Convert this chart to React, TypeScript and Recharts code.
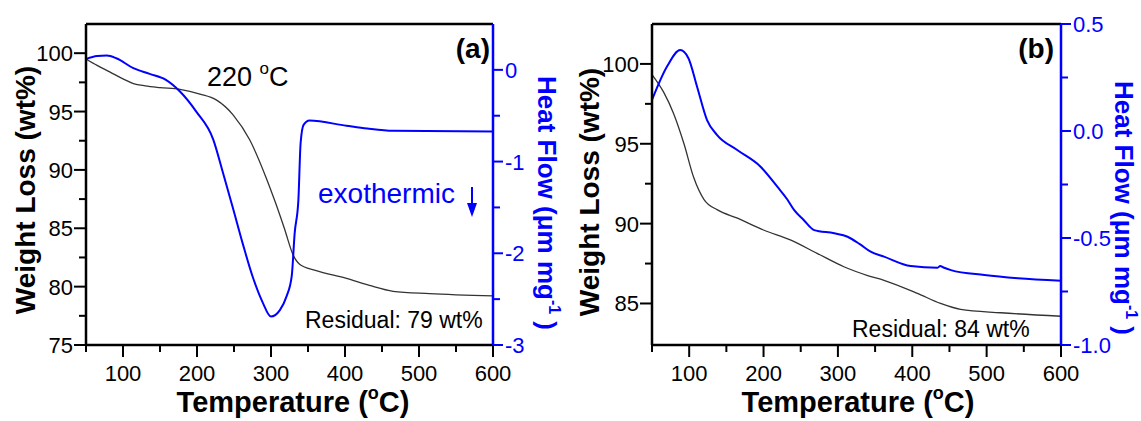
import React from 'react';
import { LineChart, Line, XAxis, YAxis, ReferenceLine } from 'recharts';

const FONT = '"Liberation Sans", Arial, Helvetica, sans-serif';
const BLUE = '#0000ff';

// Panel (a): TGA (weight loss, wt%)
const tgaA_T = [50, 65, 82, 100, 114, 130, 150, 177, 204, 226, 249, 271, 293, 306, 318, 330, 339, 360, 402, 433, 465, 514, 600];
const tgaA_W = [99.5, 98.95, 98.4, 97.8, 97.4, 97.2, 97.05, 96.9, 96.5, 96.0, 94.7, 92.6, 89.4, 87.2, 85.0, 82.7, 81.9, 81.4, 80.7, 80.1, 79.6, 79.4, 79.2];
// Panel (a): DSC (heat flow)
const dscA_T = [50, 65, 78, 91, 114, 136, 158, 177, 199, 222, 235, 249, 262, 275, 289, 300, 312, 321, 328, 332, 337, 340, 344, 352, 402, 430, 465, 600];
const dscA_H = [0.117, 0.15, 0.156, 0.127, 0.018, -0.044, -0.109, -0.236, -0.455, -0.76, -1.12, -1.52, -1.9, -2.25, -2.54, -2.69, -2.62, -2.47, -2.25, -1.78, -1.42, -0.8, -0.6, -0.553, -0.61, -0.64, -0.665, -0.673];

// Panel (b): TGA
const tgaB_T = [50, 66, 79, 93, 106, 120, 138, 165, 200, 236, 272, 308, 340, 362, 407, 438, 465, 519, 600];
const tgaB_W = [99.33, 98.2, 96.9, 95.0, 92.9, 91.5, 90.86, 90.34, 89.6, 88.98, 88.14, 87.3, 86.75, 86.45, 85.63, 85.0, 84.63, 84.42, 84.2];
// Panel (b): DSC
const dscB_T = [50, 70, 88, 99, 110.6, 124, 137.6, 164.6, 196, 218.5, 232, 241, 254, 268, 295, 313, 330, 344, 362, 398, 434, 437.5, 442, 452, 497, 542, 600];
const dscB_H = [0.145, 0.3, 0.378, 0.34, 0.207, 0.051, -0.019, -0.089, -0.167, -0.26, -0.32, -0.369, -0.416, -0.463, -0.478, -0.494, -0.53, -0.564, -0.587, -0.631, -0.639, -0.631, -0.638, -0.65, -0.673, -0.688, -0.7];

// Tick values / labels
const xMajor = [100, 200, 300, 400, 500, 600];
const xMinor = [50, 150, 250, 350, 450, 550];
const wA_Major = [75, 80, 85, 90, 95, 100];
const wA_Minor = [77.5, 82.5, 87.5, 92.5, 97.5];
const hA_Major = [0, -1, -2, -3];
const hA_Labels = ['0', '-1', '-2', '-3'];
const hA_Minor = [-0.5, -1.5, -2.5];
const wB_Major = [85, 90, 95, 100];
const wB_Minor = [87.5, 92.5, 97.5];
const hB_Major = [0.5, 0, -0.5, -1];
const hB_Labels = ['0.5', '0.0', '-0.5', '-1.0'];
const hB_Minor = [0.25, -0.25, -0.75];

const zip = (t: number[], v: number[]) => t.map((x, i) => ({ t: x, v: v[i] }));
const sorted = (a: number[], b: number[]) => [...a, ...b].sort((p, q) => p - q);

const xTick = (props: any) => {
  const { x, y, payload } = props;
  const major = xMajor.includes(payload.value);
  return (
    <g>
      <line x1={x} y1={y} x2={x} y2={y + (major ? 12 : 7)} stroke="#000" strokeWidth={2} />
      {major && (
        <text x={x} y={y + 36} textAnchor="middle" fontSize={22} fontFamily={FONT} fill="#000">
          {payload.value}
        </text>
      )}
    </g>
  );
};

const leftTick = (majors: number[]) => (props: any) => {
  const { x, y, payload } = props;
  const major = majors.includes(payload.value);
  return (
    <g>
      <line x1={x} y1={y} x2={x - (major ? 12 : 7)} y2={y} stroke="#000" strokeWidth={2} />
      {major && (
        <text x={x - 13} y={y + 8} textAnchor="end" fontSize={22} fontFamily={FONT} fill="#000">
          {payload.value}
        </text>
      )}
    </g>
  );
};

const rightTick = (majors: number[], labels: string[]) => (props: any) => {
  const { x, y, payload } = props;
  const idx = majors.indexOf(payload.value);
  const major = idx >= 0;
  return (
    <g>
      <line x1={x} y1={y} x2={x + (major ? 10 : 7)} y2={y} stroke={BLUE} strokeWidth={2} />
      {major && (
        <text x={x + 12} y={y + 8} textAnchor="start" fontSize={22} fontFamily={FONT} fill={BLUE}>
          {labels[idx]}
        </text>
      )}
    </g>
  );
};

type PanelProps = {
  left: number;
  width: number;
  margin: { top: number; right: number; left: number; bottom: number };
  tga: { t: number; v: number }[];
  dsc: { t: number; v: number }[];
  wDomain: [number, number];
  wTicks: number[];
  wMajor: number[];
  hDomain: [number, number];
  hTicks: number[];
  hMajor: number[];
  hLabels: string[];
};

const Panel = (p: PanelProps) => (
  <div style={{ position: 'absolute', left: p.left, top: 0 }}>
    <LineChart width={p.width} height={421} margin={p.margin}>
      <XAxis
        dataKey="t"
        type="number"
        domain={[50, 600]}
        allowDataOverflow
        ticks={sorted(xMajor, xMinor)}
        interval={0}
        height={40}
        tickSize={0}
        tickMargin={0}
        tickLine={false}
        tick={xTick}
        axisLine={{ stroke: '#000', strokeWidth: 2.5 }}
      />
      <YAxis
        yAxisId="w"
        type="number"
        domain={p.wDomain}
        allowDataOverflow
        ticks={p.wTicks}
        interval={0}
        width={60}
        tickSize={0}
        tickMargin={0}
        tickLine={false}
        tick={leftTick(p.wMajor)}
        axisLine={{ stroke: '#000', strokeWidth: 2.5 }}
      />
      <YAxis
        yAxisId="h"
        orientation="right"
        type="number"
        domain={p.hDomain}
        allowDataOverflow
        ticks={p.hTicks}
        interval={0}
        width={60}
        tickSize={0}
        tickMargin={0}
        tickLine={false}
        tick={rightTick(p.hMajor, p.hLabels)}
        axisLine={{ stroke: BLUE, strokeWidth: 2.5 }}
      />
      <ReferenceLine yAxisId="w" y={p.wDomain[1]} stroke="#000" strokeWidth={2.5} ifOverflow="extendDomain" />
      <Line
        yAxisId="w"
        data={p.tga}
        dataKey="v"
        type="monotone"
        stroke="#333333"
        strokeWidth={1.3}
        dot={false}
        isAnimationActive={false}
      />
      <Line
        yAxisId="h"
        data={p.dsc}
        dataKey="v"
        type="monotone"
        stroke={BLUE}
        strokeWidth={2}
        dot={false}
        isAnimationActive={false}
      />
    </LineChart>
  </div>
);

const tStyle = { fontFamily: FONT };

export default function App() {
  return (
    <div style={{ position: 'absolute', left: 0, top: 0, width: 1141, height: 421, background: '#ffffff', overflow: 'hidden' }}>
      <Panel
        left={0}
        width={570}
        margin={{ top: 24, right: 17, left: 26, bottom: 36 }}
        tga={zip(tgaA_T, tgaA_W)}
        dsc={zip(dscA_T, dscA_H)}
        wDomain={[75, 102.5]}
        wTicks={sorted(wA_Major, wA_Minor)}
        wMajor={wA_Major}
        hDomain={[-3, 0.5]}
        hTicks={sorted(hA_Major, hA_Minor)}
        hMajor={hA_Major}
        hLabels={hA_Labels}
      />
      <Panel
        left={570}
        width={571}
        margin={{ top: 24, right: 20, left: 22, bottom: 36 }}
        tga={zip(tgaB_T, tgaB_W)}
        dsc={zip(dscB_T, dscB_H)}
        wDomain={[82.4, 102.5]}
        wTicks={sorted(wB_Major, wB_Minor)}
        wMajor={wB_Major}
        hDomain={[-1, 0.5]}
        hTicks={sorted(hB_Major, hB_Minor)}
        hMajor={hB_Major}
        hLabels={hB_Labels}
      />
      <svg width={1141} height={421} style={{ position: 'absolute', left: 0, top: 0, pointerEvents: 'none' }}>
        {/* axis titles */}
        <text transform="translate(35,190) rotate(-90)" textAnchor="middle" fontSize={28} fontWeight="bold" style={tStyle} fill="#000">
          Weight Loss (wt%)
        </text>
        <text transform="translate(599,192) rotate(-90)" textAnchor="middle" fontSize={28} fontWeight="bold" style={tStyle} fill="#000">
          Weight Loss (wt%)
        </text>
        <text transform="translate(538,203) rotate(90)" textAnchor="middle" fontSize={26} fontWeight="bold" style={tStyle} fill={BLUE}>
          Heat Flow (μm mg<tspan fontSize={16} dy={-11}>-1</tspan><tspan dy={11}> )</tspan>
        </text>
        <text transform="translate(1115,208) rotate(90)" textAnchor="middle" fontSize={26} fontWeight="bold" style={tStyle} fill={BLUE}>
          Heat Flow (μm mg<tspan fontSize={16} dy={-11}>-1</tspan><tspan dy={11}> )</tspan>
        </text>
        <text x={293} y={412} textAnchor="middle" fontSize={29} fontWeight="bold" style={tStyle} fill="#000">
          Temperature (<tspan fontSize={18} dy={-13}>o</tspan><tspan dy={13}>C)</tspan>
        </text>
        <text x={858} y={412} textAnchor="middle" fontSize={29} fontWeight="bold" style={tStyle} fill="#000">
          Temperature (<tspan fontSize={18} dy={-13}>o</tspan><tspan dy={13}>C)</tspan>
        </text>
        {/* annotations */}
        <text x={207} y={86} fontSize={27} style={tStyle} fill="#000">
          220 <tspan fontSize={17} dy={-12}>o</tspan><tspan dy={12}>C</tspan>
        </text>
        <text x={490} y={58} textAnchor="end" fontSize={28} fontWeight="bold" style={tStyle} fill="#000">(a)</text>
        <text x={1054} y={58} textAnchor="end" fontSize={28} fontWeight="bold" style={tStyle} fill="#000">(b)</text>
        <text x={318} y={203} fontSize={28} style={tStyle} fill={BLUE}>exothermic</text>
        <line x1={472} y1={187} x2={472} y2={206} stroke={BLUE} strokeWidth={2} />
        <polygon points="467,203 477,203 472,217" fill={BLUE} />
        <text x={305} y={328} fontSize={23} style={tStyle} fill="#000">Residual: 79 wt%</text>
        <text x={852} y={337} fontSize={23} style={tStyle} fill="#000">Residual: 84 wt%</text>
      </svg>
    </div>
  );
}
